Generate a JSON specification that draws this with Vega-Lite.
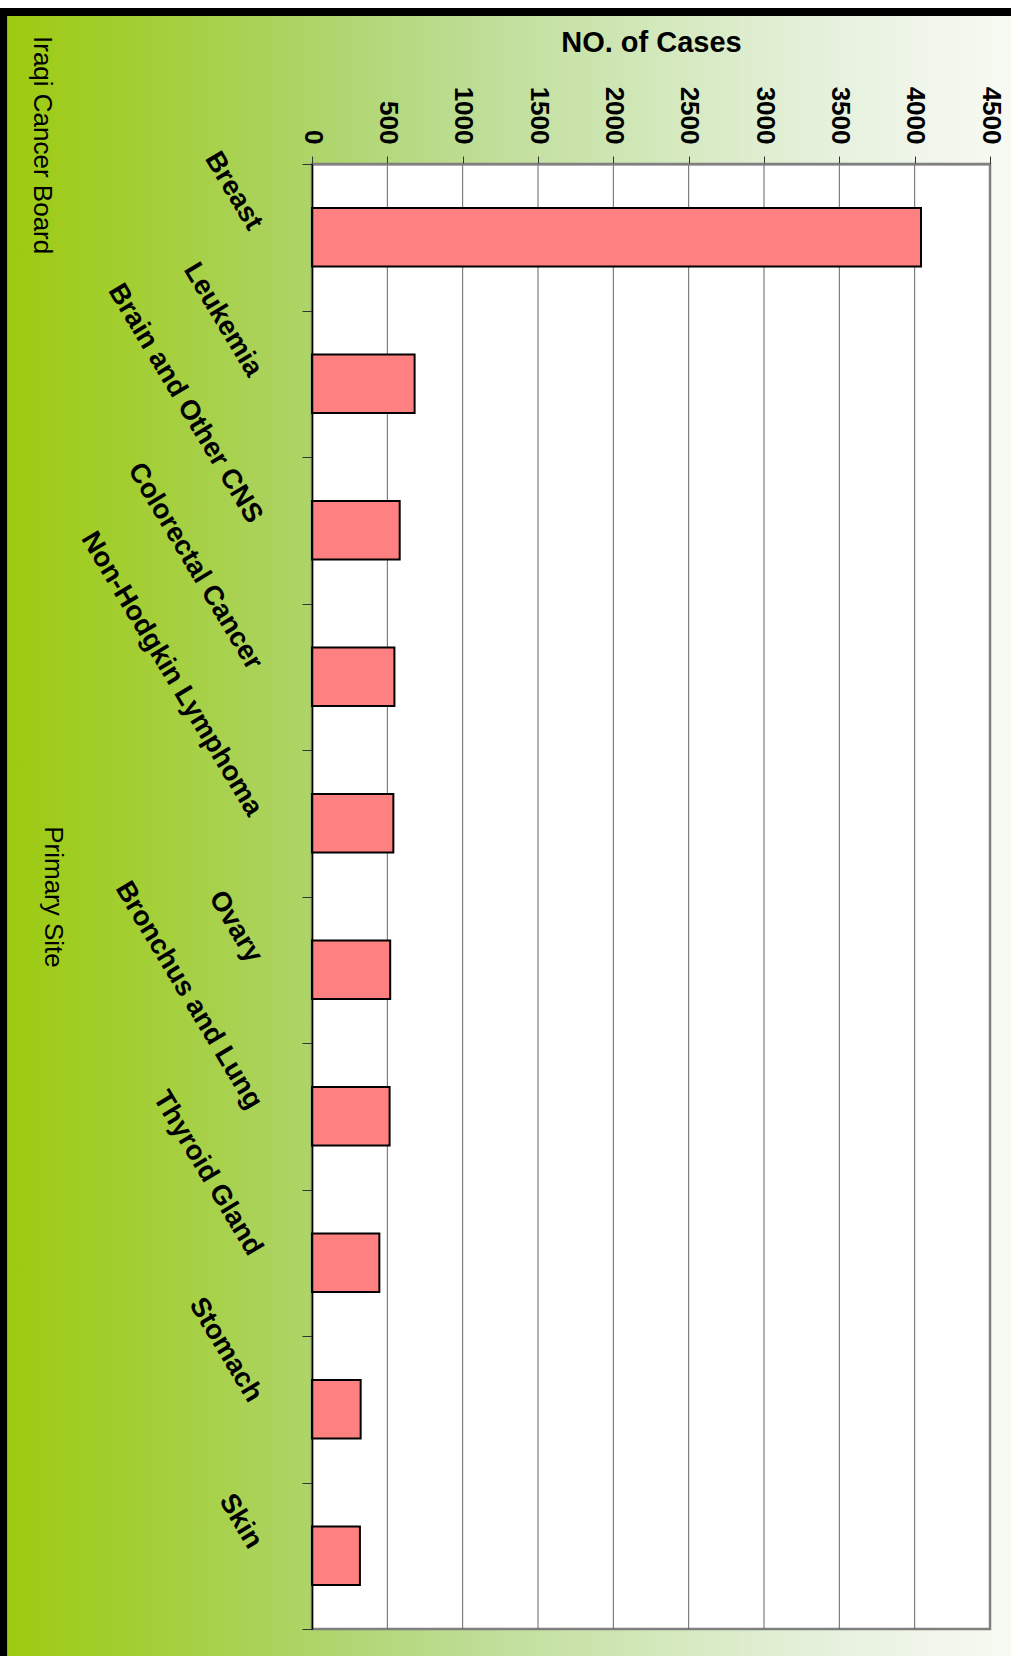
{
  "$schema": "https://vega.github.io/schema/vega-lite/v6.json",
  "width": 678,
  "height": 1465,
  "autosize": {"type": "none"},
  "padding": {"left": 312, "top": 164, "right": 21, "bottom": 27},
  "background": "white",
  "title": {
    "text": "Iraqi Cancer Board",
    "orient": "left",
    "anchor": "end",
    "angle": 90,
    "align": "left",
    "baseline": "top",
    "frame": "group",
    "offset": -89,
    "dx": -128,
    "font": "Liberation Sans",
    "fontSize": 26,
    "fontWeight": "normal",
    "color": "black"
  },
  "data": {
    "values": [
      {"site": "Breast", "cases": 4042},
      {"site": "Leukemia", "cases": 681},
      {"site": "Brain and Other CNS", "cases": 582},
      {"site": "Colorectal Cancer", "cases": 547},
      {"site": "Non-Hodgkin Lymphoma", "cases": 540},
      {"site": "Ovary", "cases": 519},
      {"site": "Bronchus and Lung", "cases": 515},
      {"site": "Thyroid Gland", "cases": 447},
      {"site": "Stomach", "cases": 323},
      {"site": "Skin", "cases": 318}
    ]
  },
  "layer": [
    {
      "data": {"values": [{"panel": "frame"}]},
      "mark": {
        "type": "rect",
        "fill": "white",
        "strokeWidth": 640,
        "stroke": {
          "gradient": "linear",
          "x1": 0, "y1": -0.11195, "x2": 0, "y2": 1.01843,
          "stops": [
            {"offset": 0, "color": "#ffffff"},
            {"offset": 0.0048, "color": "#ffffff"},
            {"offset": 0.0049, "color": "#000000"},
            {"offset": 0.0096, "color": "#000000"},
            {"offset": 0.0097, "color": "rgba(0,0,0,0)"},
            {"offset": 1, "color": "rgba(0,0,0,0)"}
          ]
        }
      },
      "encoding": {
        "x": {"datum": 0, "type": "quantitative", "title": "NO. of Cases"},
        "x2": {"datum": 4500}
      }
    },
    {
      "data": {"values": [{"panel": "plot"}]},
      "mark": {"type": "rect", "fill": "white", "stroke": "#808080", "strokeWidth": 2.5},
      "encoding": {
        "x": {"datum": 0, "type": "quantitative", "title": "NO. of Cases"},
        "x2": {"datum": 4500}
      }
    },
    {
      "data": {"values": [{"grid": 500}, {"grid": 1000}, {"grid": 1500}, {"grid": 2000}, {"grid": 2500}, {"grid": 3000}, {"grid": 3500}, {"grid": 4000}]},
      "mark": {"type": "rule", "color": "#666666", "strokeWidth": 1},
      "encoding": {
        "x": {"field": "grid", "type": "quantitative", "title": "NO. of Cases"}
      }
    },
    {
      "mark": {"type": "bar", "fill": "#FF8080", "stroke": "black", "strokeWidth": 2, "height": {"band": 0.4}},
      "encoding": {
        "y": {
          "field": "site",
          "type": "nominal",
          "sort": null,
          "scale": {"paddingInner": 0, "paddingOuter": 0},
          "axis": {
            "title": "Primary Site",
            "titleAngle": 90,
            "titleBaseline": "top",
            "titleFont": "Liberation Sans",
            "titleFontSize": 26,
            "titleFontWeight": "normal",
            "titleColor": "black",
            "titlePadding": 47,
            "labelAngle": 59,
            "labelAlign": "right",
            "labelBaseline": "middle",
            "labelFont": "Liberation Sans",
            "labelFontSize": 27.5,
            "labelFontWeight": "bold",
            "labelColor": "black",
            "labelPadding": 47,
            "labelOffset": -10,
            "labelLimit": 500,
            "labelOverlap": false,
            "tickBand": "extent",
            "tickSize": 10,
            "tickColor": "#333333",
            "domainColor": "black",
            "domainWidth": 1.5,
            "grid": false,
            "zindex": 1
          }
        },
        "x": {
          "field": "cases",
          "type": "quantitative",
          "scale": {"domain": [0, 4500], "nice": false},
          "axis": {
            "orient": "top",
            "title": "NO. of Cases",
            "titleFont": "Liberation Sans",
            "titleFontSize": 29,
            "titleFontWeight": "bold",
            "titleColor": "black",
            "titlePadding": 29,
            "values": [0, 500, 1000, 1500, 2000, 2500, 3000, 3500, 4000, 4500],
            "format": "d",
            "labelAngle": 90,
            "labelAlign": "right",
            "labelBaseline": "middle",
            "labelFont": "Liberation Sans",
            "labelFontSize": 26,
            "labelFontWeight": "bold",
            "labelColor": "black",
            "labelPadding": 12,
            "labelFlush": false,
            "labelOverlap": false,
            "tickSize": 8,
            "tickColor": "#333333",
            "domainColor": "#808080",
            "domainWidth": 2,
            "grid": false,
            "zindex": 1
          }
        }
      }
    }
  ],
  "config": {
    "view": {
      "fill": "white",
      "strokeWidth": 680,
      "stroke": {
        "gradient": "linear",
        "x1": -0.4602, "y1": 0, "x2": 1.031, "y2": 0,
        "stops": [
          {"offset": 0, "color": "#000000"},
          {"offset": 0.0069, "color": "#000000"},
          {"offset": 0.0075, "color": "#9DCB10"},
          {"offset": 0.15, "color": "#A4CF38"},
          {"offset": 0.3, "color": "#ADD466"},
          {"offset": 0.4, "color": "#B6D983"},
          {"offset": 0.5, "color": "#C2DF9C"},
          {"offset": 0.6, "color": "#CDE5B1"},
          {"offset": 0.7, "color": "#D9EBC6"},
          {"offset": 0.8, "color": "#E4F0D9"},
          {"offset": 0.9, "color": "#EEF5E8"},
          {"offset": 1, "color": "#F7FAF2"}
        ]
      }
    }
  }
}
